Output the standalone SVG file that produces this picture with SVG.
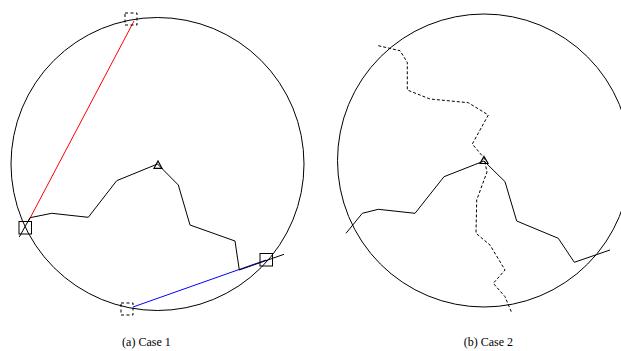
<svg xmlns="http://www.w3.org/2000/svg" width="621" height="351" viewBox="0 0 621 351">
<style>
.c{fill:none;stroke:#000;stroke-width:1}
.p{fill:none;stroke:#000;stroke-width:1;stroke-linejoin:miter}
.d{fill:none;stroke:#000;stroke-width:1;stroke-dasharray:3,2}
.sq{fill:none;stroke:#000;stroke-width:1}
.dsq{fill:none;stroke:#000;stroke-width:1;stroke-dasharray:3,2.5}
.tri{fill:none;stroke:#000;stroke-width:1.2}
.cap{font-family:"Liberation Serif","Times New Roman",serif;font-size:12px;fill:#000;text-anchor:middle}
</style>
<rect width="621" height="351" fill="#fff"/>
<g id="caseA">
  <circle id="circleA" class="c" cx="157.5" cy="164" r="146.5"/>
  <g id="connectorsA">
    <line x1="134" y1="21" x2="28" y2="222" stroke="#ff0000" stroke-width="1"/>
    <line x1="133" y1="307" x2="266" y2="260" stroke="#0000ff" stroke-width="1"/>
    <polyline class="p" points="19.3,237 30,217.7 51.7,213.3 88.3,217.3 116.7,180.7 157.5,164 178.3,185 190,225 235,241 239.3,270 284,254.3"/>
  </g>
  <g id="nodeA-tri"><polygon class="tri" points="154,168.3 162,168.3 158,161"/></g>
  <g id="nodeA-left"><rect class="sq" x="19" y="221.5" width="12.5" height="12.5"/></g>
  <g id="nodeA-right"><rect class="sq" x="260" y="253.5" width="12.5" height="12.5"/></g>
  <g id="nodeA-top"><rect class="dsq" x="125" y="13" width="12" height="12"/></g>
  <g id="nodeA-bottom"><rect class="dsq" x="121" y="303" width="12" height="12"/></g>
  <text class="cap" x="146.4" y="346">(a) Case 1</text>
</g>
<g id="caseB">
  <circle id="circleB" class="c" cx="484" cy="160.5" r="146.5"/>
  <g id="connectorsB">
    <polyline class="p" points="346,233.3 362.3,213.3 378.3,209.3 415,213.3 444,176.7 484,161 505,181.7 516.7,221 558.3,238.3 574.3,262.3 610,250"/>
    <polyline class="d" points="378.3,45.7 400,50.7 407.3,62.3 407.3,90 430,99 468.3,102.7 488.3,115 472.3,144 484,158 487,172 476.7,200 476,233.3 490,245 505,270 493.3,283.3 505,296.7 511.7,312.7"/>
  </g>
  <g id="nodeB-tri"><polygon class="tri" points="480,163.5 488,163.5 484,156.5"/></g>
  <text class="cap" x="488.4" y="346">(b) Case 2</text>
</g>
</svg>
